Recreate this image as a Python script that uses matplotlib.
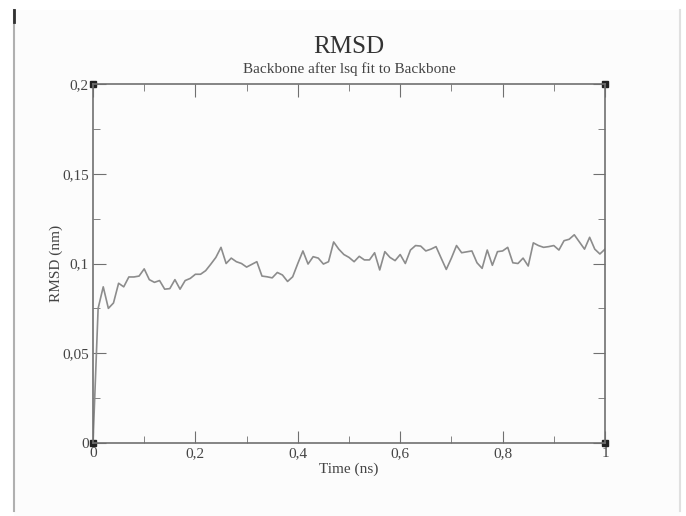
import numpy as np
import matplotlib
matplotlib.use('Agg')
import matplotlib.pyplot as plt
from matplotlib.lines import Line2D
from matplotlib.patches import Rectangle

# RMSD data (ns, nm)
time = [i / 100 for i in range(101)]
rmsd = [0.0, 0.075, 0.087, 0.075, 0.078, 0.089, 0.087, 0.0925, 0.0925, 0.093,
        0.097, 0.091, 0.0895, 0.0905, 0.0857, 0.086, 0.091, 0.0857, 0.0905, 0.0917,
        0.094, 0.094, 0.096, 0.0996, 0.1034, 0.109, 0.100, 0.103, 0.101, 0.100,
        0.098, 0.0995, 0.101, 0.093, 0.0926, 0.092, 0.095, 0.0936, 0.090, 0.0926,
        0.100, 0.107, 0.0997, 0.1038, 0.103, 0.0997, 0.101, 0.112, 0.108, 0.105,
        0.1034, 0.101, 0.104, 0.102, 0.102, 0.106, 0.0964, 0.1066, 0.1034, 0.1016,
        0.105, 0.100, 0.1075, 0.110, 0.1097, 0.107, 0.108, 0.1094, 0.103, 0.0967,
        0.103, 0.110, 0.106, 0.1065, 0.107, 0.1004, 0.0973, 0.1075, 0.099, 0.1066,
        0.107, 0.109, 0.1004, 0.100, 0.103, 0.0986, 0.1115, 0.110, 0.109, 0.1094,
        0.110, 0.1075, 0.1127, 0.1135, 0.116, 0.112, 0.108, 0.1146, 0.108, 0.1053,
        0.108]

xticks = [0, 0.2, 0.4, 0.6, 0.8, 1]
xlabels = ['0', '0,2', '0,4', '0,6', '0,8', '1']
yticks = [0, 0.05, 0.1, 0.15, 0.2]
ylabels = ['0', '0,05', '0,1', '0,15', '0,2']

plt.rcParams['font.family'] = ['Liberation Serif', 'DejaVu Serif']

fig = plt.figure(figsize=(6.86, 5.16), dpi=100)
fig.patch.set_facecolor('white')

# screenshot frame
fig.patches.append(Rectangle((14 / 686, 0), 666 / 686, 1 - 10 / 516,
                             transform=fig.transFigure, facecolor='#fcfcfc',
                             edgecolor='none', zorder=-10))
fig.lines.append(Line2D([14 / 686, 14 / 686], [0.01, 1 - 10 / 516],
                        transform=fig.transFigure, color='#b0b0b0', lw=1.5))
fig.lines.append(Line2D([14 / 686, 14 / 686], [1 - 22 / 516, 1 - 10 / 516],
                        transform=fig.transFigure, color='#303030', lw=2))
fig.lines.append(Line2D([680 / 686, 680 / 686], [0.01, 1 - 10 / 516],
                        transform=fig.transFigure, color='#e0e0e0', lw=1.5))

ax = fig.add_axes([93 / 686, 1 - 443 / 516, 512 / 686, 359 / 516])
ax.set_facecolor('#fcfcfc')
ax.plot(time, rmsd, color='#8c8c8c', lw=1.2)

ax.set_xlim(0, 1)
ax.set_ylim(0, 0.2)
ax.set_xticks(xticks)
ax.set_xticklabels(xlabels)
ax.set_yticks(yticks)
ax.set_yticklabels(ylabels)
ax.set_xticks([0.1, 0.3, 0.5, 0.7, 0.9], minor=True)
ax.set_yticks([0.025, 0.075, 0.125, 0.175], minor=True)
ax.tick_params(which='both', direction='in', top=True, right=True,
               color='#707070', labelsize=11, labelcolor='#444444')
ax.tick_params(which='major', length=9, pad=3)
ax.tick_params(which='minor', length=5)
for s in ax.spines.values():
    s.set_color('#707070')
    s.set_linewidth(1.2)

# corner markers of the frame
ax.plot([0, 1, 0, 1], [0, 0, 1, 1], 's', color='#222222', ms=4,
        transform=ax.transAxes, clip_on=False)

ax.set_xlabel('Time (ns)', fontsize=11, color='#444444', labelpad=2)
ax.set_ylabel('RMSD (nm)', fontsize=11, color='#444444')
ax.yaxis.set_label_coords(-30 / 512, 0.5)
fig.text(349 / 686, 1 - 47 / 516, 'RMSD', ha='center', va='center',
         fontsize=18, color='#333333')
fig.text(349 / 686, 1 - 69 / 516, 'Backbone after lsq fit to Backbone',
         ha='center', va='center', fontsize=11, color='#444444')

fig.savefig('out.png', dpi=100)
